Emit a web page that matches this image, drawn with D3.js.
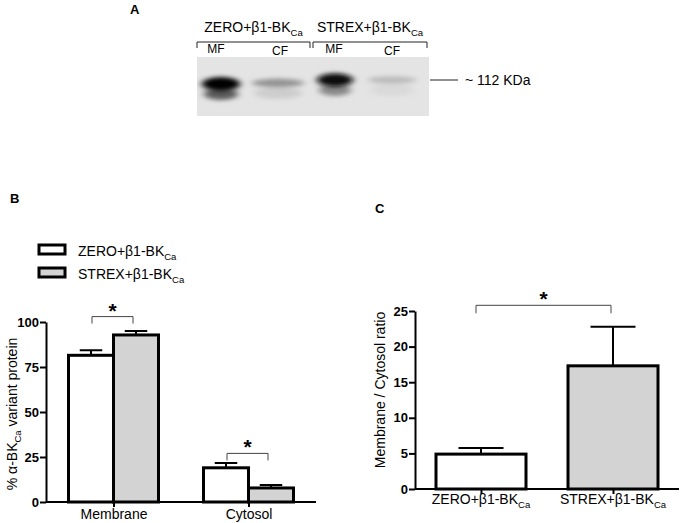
<!DOCTYPE html>
<html>
<head>
<meta charset="utf-8">
<script src="https://cdn.jsdelivr.net/npm/d3@7"></script>
<style>
  body { margin: 0; background: #fff; }
  svg { display: block; font-family: "Liberation Sans", Arial, sans-serif; }
</style>
</head>
<body>
<div id="chart"></div>
<script>
/* DATA */
const seriesKeys = ["ZERO", "STREX"];
const seriesNames = { ZERO: "ZERO+β1-BK", STREX: "STREX+β1-BK" };
const seriesSub = "Ca";

// panel B: % alpha-BKCa protein per fraction
const fractions = ["Membrane", "Cytosol"];
const zeroMeans = [81.5, 19];
const zeroErrs = [2.8, 2.7];
const strexMeans = [92.8, 7.8];
const strexErrs = [2.2, 1.7];
const ticksB = [0, 25, 50, 75, 100];
const sigB = [103, 27];   // bracket heights in data units

// panel C: membrane / cytosol ratio
const ratioMeans = [4.9, 17.3];
const ratioErrs = [0.85, 5.5];
const ticksC = [0, 5, 10, 15, 20, 25];
const sigC = 25.8;

// panel A: western blot lanes
const laneNames = ["MF", "CF", "MF", "CF"];
const laneBand = [1.0, 0.35, 0.95, 0.18];   // relative band darkness
const laneSmear = [0.6, 0.1, 0.4, 0.05];     // lower smear darkness

/* CONSTANTS AND GLOBALS */
const width = 687, height = 523;
const font = "'Liberation Sans', Arial, sans-serif";
const fills = { ZERO: "#ffffff", STREX: "#d3d3d3" };

const svg = d3.select("#chart").append("svg")
  .attr("width", width)
  .attr("height", height);

// write text with a "Ca" subscript
function subText(sel, main, sub, rest, size) {
  sel.append("tspan").text(main);
  sel.append("tspan").text(sub)
    .attr("font-size", size * 0.68)
    .attr("dy", size * 0.25);
  if (rest) sel.append("tspan").text(rest).attr("dy", -size * 0.25);
}

/* PANEL A: blot */
function drawBlot() {
  const g = svg.append("g");
  g.append("text").attr("x", 130).attr("y", 14)
    .attr("font-weight", "bold").attr("font-size", 13).text("A");

  const blotX = 197, blotY = 57, blotW = 232, blotH = 59;
  const defs = svg.append("defs");
  defs.append("filter").attr("id", "blur")
    .attr("x", "-50%").attr("y", "-100%").attr("width", "200%").attr("height", "300%")
    .append("feGaussianBlur").attr("stdDeviation", "3.5 2.2");
  defs.append("clipPath").attr("id", "blotclip")
    .append("rect").attr("x", blotX).attr("y", blotY).attr("width", blotW).attr("height", blotH);

  g.append("rect").attr("x", blotX).attr("y", blotY)
    .attr("width", blotW).attr("height", blotH).attr("fill", "#e4e4e4");

  const laneX = d3.scalePoint().domain(d3.range(4)).range([221, 392]);
  const laneW = [38, 52, 36, 48];
  const bandY = [84, 83, 80, 80];
  const gray = d3.scaleLinear().domain([0, 1]).range(["#e4e4e4", "#000000"]);

  const bands = g.append("g").attr("clip-path", "url(#blotclip)");
  bands.selectAll("ellipse.smear").data(laneSmear)
    .join("ellipse").attr("class", "smear")
    .attr("cx", (d, i) => laneX(i))
    .attr("cy", (d, i) => bandY[i] + 10)
    .attr("rx", (d, i) => laneW[i] / 2 - 2)
    .attr("ry", 6)
    .attr("fill", d => gray(d))
    .attr("filter", "url(#blur)");
  bands.selectAll("ellipse.band").data(laneBand)
    .join("ellipse").attr("class", "band")
    .attr("cx", (d, i) => laneX(i))
    .attr("cy", (d, i) => bandY[i])
    .attr("rx", (d, i) => laneW[i] / 2)
    .attr("ry", d => 3 + d * 4)
    .attr("fill", d => gray(d))
    .attr("filter", "url(#blur)");

  // group labels and brackets
  const groups = [[197, 310], [313, 427]];
  groups.forEach((r, i) => {
    g.append("path")
      .attr("d", `M${r[0]},48V42H${r[1]}V48`)
      .attr("fill", "none").attr("stroke", "#222").attr("stroke-width", 1);
    g.append("text").attr("x", (r[0] + r[1]) / 2).attr("y", 32)
      .attr("text-anchor", "middle").attr("font-size", 14)
      .call(t => subText(t, seriesNames[seriesKeys[i]], seriesSub, null, 14));
  });
  g.selectAll("text.lane").data(laneNames)
    .join("text").attr("class", "lane")
    .attr("x", (d, i) => [216, 280, 334, 392][i])
    .attr("y", (d, i) => i % 2 ? 55 : 53)
    .attr("text-anchor", "middle").attr("font-size", 12)
    .text(d => d);

  g.append("line").attr("x1", 430).attr("x2", 458).attr("y1", 80).attr("y2", 80)
    .attr("stroke", "#222").attr("stroke-width", 1);
  g.append("text").attr("x", 465).attr("y", 85).attr("font-size", 14).text("~ 112 KDa");
}

// bracket with a star on top
function bracket(g, x1, x2, y, drop) {
  g.append("path")
    .attr("d", `M${x1},${y + drop}V${y}H${x2}V${y + drop}`)
    .attr("fill", "none").attr("stroke", "#444").attr("stroke-width", 1);
  g.append("text").attr("x", (x1 + x2) / 2).attr("y", y + 1)
    .attr("text-anchor", "middle").attr("font-size", 21).attr("font-weight", "bold")
    .text("*");
}

function styleAxis(a) {
  a.select(".domain").attr("stroke-width", 2);
  a.selectAll(".tick line").attr("stroke-width", 2);
}

/* PANEL B */
function drawB() {
  const g = svg.append("g");
  g.append("text").attr("x", 10).attr("y", 203)
    .attr("font-weight", "bold").attr("font-size", 13).text("B");

  // legend
  seriesKeys.forEach((k, i) => {
    g.append("rect").attr("x", 39).attr("y", 245 + i * 23)
      .attr("width", 26).attr("height", 9)
      .attr("fill", fills[k]).attr("stroke", "#000").attr("stroke-width", 3);
    g.append("text").attr("x", 78).attr("y", 256 + i * 23).attr("font-size", 14)
      .call(t => subText(t, seriesNames[k], seriesSub, null, 14));
  });

  const x = d3.scalePoint().domain(fractions).range([46, 316]).padding(0.5);
  const xs = d3.scaleBand().domain(seriesKeys).range([-45, 45]);
  const y = d3.scaleLinear().domain([0, 100]).range([502, 322]);

  const rows = [];
  fractions.forEach((f, i) => {
    rows.push({ f, k: "ZERO", v: zeroMeans[i], e: zeroErrs[i] });
    rows.push({ f, k: "STREX", v: strexMeans[i], e: strexErrs[i] });
  });

  const bw = xs.bandwidth();
  // error bars (drawn first so the bar outline sits over the stem)
  g.selectAll("path.err").data(rows).join("path").attr("class", "err")
    .attr("d", d => {
      const cx = x(d.f) + xs(d.k) + bw / 2;
      return `M${cx},${y(d.v)}V${y(d.v + d.e)}M${cx - bw / 4},${y(d.v + d.e)}H${cx + bw / 4}`;
    })
    .attr("fill", "none").attr("stroke", "#000").attr("stroke-width", 2);

  g.selectAll("rect.bar").data(rows).join("rect").attr("class", "bar")
    .attr("x", d => x(d.f) + xs(d.k))
    .attr("y", d => y(d.v))
    .attr("width", bw)
    .attr("height", d => y(0) - y(d.v))
    .attr("fill", d => fills[d.k])
    .attr("stroke", "#000").attr("stroke-width", 3);

  const ya = g.append("g").attr("transform", "translate(46,0)")
    .call(d3.axisLeft(y).tickValues(ticksB).tickSize(6).tickSizeOuter(0))
    .call(styleAxis);
  ya.selectAll("text").attr("font-size", 13).attr("font-weight", "bold")
    .attr("font-family", font).attr("fill", "#000").attr("dx", 2);

  const xa = g.append("g").attr("transform", `translate(0,${y(0)})`)
    .call(d3.axisBottom(x).tickSize(5).tickSizeOuter(0))
    .call(styleAxis);
  xa.select(".domain").attr("d", "M46,0H316");
  xa.selectAll("text").attr("font-size", 14).attr("font-family", font)
    .attr("fill", "#000").attr("dy", "0.62em");

  g.append("text")
    .attr("transform", `translate(17,${y(50) + 2}) rotate(-90)`)
    .attr("text-anchor", "middle").attr("font-size", 14)
    .call(t => subText(t, "% α-BK", "Ca", " variant protein", 14));

  fractions.forEach((f, i) => {
    const c0 = x(f) + xs("ZERO") + bw / 2;
    const c1 = x(f) + xs("STREX") + bw / 2;
    bracket(g, c0 + 1, c1 - 3, y(sigB[i]), 7);
  });
}

/* PANEL C */
function drawC() {
  const g = svg.append("g");
  g.append("text").attr("x", 375).attr("y", 213)
    .attr("font-weight", "bold").attr("font-size", 13).text("C");

  const x = d3.scalePoint().domain(seriesKeys).range([415, 679]).padding(0.5);
  const y = d3.scaleLinear().domain([0, 25]).range([489, 311]);
  const bw = 90;
  const rows = seriesKeys.map((k, i) => ({ k, v: ratioMeans[i], e: ratioErrs[i] }));

  g.selectAll("path.err").data(rows).join("path").attr("class", "err")
    .attr("d", d => {
      const cx = x(d.k);
      return `M${cx},${y(d.v)}V${y(d.v + d.e)}M${cx - bw / 4},${y(d.v + d.e)}H${cx + bw / 4}`;
    })
    .attr("fill", "none").attr("stroke", "#000").attr("stroke-width", 2);

  g.selectAll("rect.bar").data(rows).join("rect").attr("class", "bar")
    .attr("x", d => x(d.k) - bw / 2)
    .attr("y", d => y(d.v))
    .attr("width", bw)
    .attr("height", d => y(0) - y(d.v))
    .attr("fill", d => fills[d.k])
    .attr("stroke", "#000").attr("stroke-width", 3);

  const ya = g.append("g").attr("transform", "translate(415,0)")
    .call(d3.axisLeft(y).tickValues(ticksC).tickSize(6).tickSizeOuter(0))
    .call(styleAxis);
  ya.selectAll("text").attr("font-size", 13).attr("font-weight", "bold")
    .attr("font-family", font).attr("fill", "#000").attr("dx", 2);

  const xa = g.append("g").attr("transform", `translate(0,${y(0)})`)
    .call(d3.axisBottom(x).tickSize(5).tickSizeOuter(0).tickFormat(""))
    .call(styleAxis);
  xa.select(".domain").attr("d", "M415,0H679");

  seriesKeys.forEach(k => {
    g.append("text").attr("x", x(k)).attr("y", 504)
      .attr("text-anchor", "middle").attr("font-size", 14)
      .call(t => subText(t, seriesNames[k], seriesSub, null, 14));
  });

  g.append("text")
    .attr("transform", `translate(385,${y(12.5) - 10}) rotate(-90)`)
    .attr("text-anchor", "middle").attr("font-size", 14)
    .text("Membrane / Cytosol ratio");

  bracket(g, x("ZERO") - 5, x("STREX") - 2, y(sigC), 8);
}

drawBlot();
drawB();
drawC();
</script>
</body>
</html>
